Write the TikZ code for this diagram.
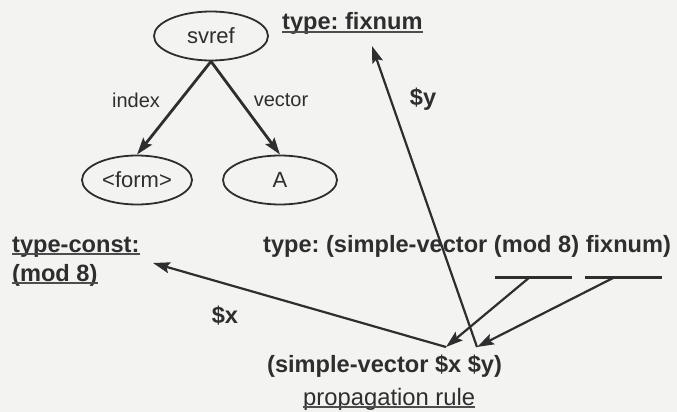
\documentclass[tikz,border=0pt]{standalone}
\usepackage{fontspec}
\setmainfont{Liberation Sans}
\usetikzlibrary{shapes.geometric,arrows.meta}
\definecolor{ink}{HTML}{2E2E2E}
\definecolor{bg}{HTML}{F3F3F1}
\frenchspacing
\begin{document}
\begin{tikzpicture}[x=1pt,y=-1pt,
  ell/.style={ellipse,draw=ink,line width=1.8pt,inner sep=0pt,text=ink,font=\fontsize{22}{26}\selectfont},
  lab/.style={text=ink,inner sep=0pt,font=\fontsize{20}{24}\selectfont},
  bt/.style={text=ink,inner sep=0pt,anchor=base west,font=\bfseries\fontsize{23.6}{28}\selectfont},
  rt/.style={text=ink,inner sep=0pt,anchor=base west,font=\fontsize{23.8}{28}\selectfont},
  ul/.style={draw=ink!85,line width=1.6pt},
  tree/.style={draw=ink,line width=2.8pt,-{Stealth[length=17pt,width=11pt,inset=3pt]}},
  arr/.style={draw=ink,line width=2.2pt,-{Stealth[length=17pt,width=11pt,inset=3pt]}},
  blank/.style={draw=ink,line width=3pt}]
\fill[bg] (0,0) rectangle (677,412);
\useasboundingbox (0,0) rectangle (677,412);
% tree
\node[ell,minimum width=114pt,minimum height=49pt] (svref) at (211,36) {svref};
\node[ell,minimum width=110pt,minimum height=49pt] (form) at (137,180) {<form>};
\node[ell,minimum width=114pt,minimum height=49pt] (A) at (280,180) {A};
\draw[tree] (svref.south) -- (form.north);
\draw[tree] (svref.south) -- (A.north);
\node[lab] (li) at (136,100) {index};
\node[lab] (lv) at (281,100) {vector};
% texts
\node[bt] (tf) at (282,30) {type: fixnum};
\draw[ul] ([yshift=-2pt]tf.base west) -- ([yshift=-2pt]tf.base east);
\node[bt] (tc1) at (12,252) {type-const:};
\draw[ul] ([yshift=-2pt]tc1.base west) -- ([yshift=-2pt]tc1.base east);
\node[bt] (tc2) at (12,281) {(mod 8)};
\draw[ul] ([yshift=-2pt]tc2.base west) -- ([yshift=-2pt]tc2.base east);
\node[bt] (tsv) at (263,252) {type: (simple-vector (mod 8) fixnum)};
\node[bt] (sv) at (267,372) {(simple-vector \$x \$y)};
\node[rt] (pr) at (303,405) {propagation rule};
\draw[ul] ([yshift=-2pt]pr.base west) -- ([yshift=-2pt]pr.base east);
\node[bt,anchor=center] (ly) at (423,99) {\$y};
\node[bt,anchor=center] (lx) at (225,316) {\$x};
% blanks
\coordinate (u1a) at (495,277);
\coordinate (u1b) at (572,277);
\coordinate (u2a) at (585,277);
\coordinate (u2b) at (662,277);
\draw[blank] (u1a) -- (u1b);
\draw[blank] (u2a) -- (u2b);
\coordinate (m1) at (530,277);
\coordinate (m2) at (615,277);
\coordinate (b1) at (446,347);
\coordinate (b2) at (477,347);
\coordinate (tx) at (153,263);
\coordinate (ty) at (372,46);
\draw[arr] (m1) -- (b1);
\draw[arr] (m2) -- (b2);
\draw[arr] (b1) -- (tx);
\draw[arr] (b2) -- (ty);
\end{tikzpicture}
\end{document}
